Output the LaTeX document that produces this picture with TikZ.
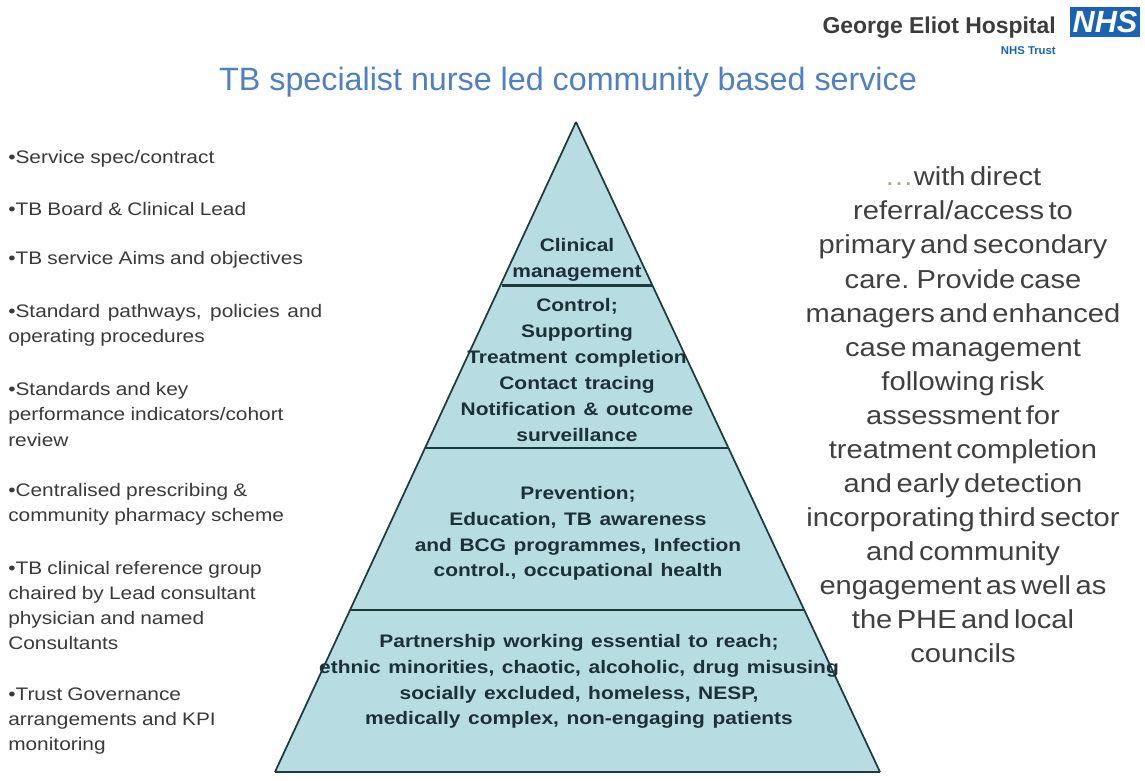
\documentclass[tikz,border=0pt]{standalone}
\usepackage{fontspec}
\setmainfont{Liberation Sans}
\newfontfamily\leftfam[FakeStretch=1.15,WordSpace=0.9]{Liberation Sans}
\newfontfamily\rightfam[FakeStretch=1.12,WordSpace=0.55]{Liberation Sans}
\newfontfamily\pyrfam[FakeStretch=1.155,WordSpace=1.3]{Liberation Sans}
\definecolor{pyrfill}{HTML}{B7DDE3}
\definecolor{pyrline}{HTML}{1E3B3C}
\definecolor{titleblue}{HTML}{4F7FC4}
\definecolor{nhsblue}{HTML}{1A63B4}
\definecolor{leftgrey}{HTML}{3A3A3A}
\definecolor{pyrtext}{HTML}{1C3038}
\definecolor{logogrey}{HTML}{3C3C3C}
\definecolor{dotgreen}{HTML}{9BB26A}
\tikzset{
  lefttext/.style={anchor=west,align=left,inner sep=0pt,text=leftgrey,font=\leftfam\fontsize{13.6}{18.9}\selectfont},
  righttext/.style={anchor=center,align=center,inner sep=0pt,text=black!75,font=\rightfam\fontsize{19.5}{25.55}\selectfont},
  pyrlabel/.style={anchor=center,align=center,inner sep=0pt,text=pyrtext,font=\pyrfam\bfseries\fontsize{13.6}{19.4}\selectfont},
  tier/.style={fill=pyrfill,draw=none},
  tierline/.style={draw=pyrline,line width=2pt},
  edgeline/.style={draw=pyrline,line width=1.3pt,line join=round}
}
\newcommand{\just}[2]{\makebox[#1][s]{#2}}
\begin{document}
\begin{tikzpicture}[x=0.75pt,y=-0.75pt]
\useasboundingbox (0,0) rectangle (1145,781);
\fill[white] (0,0) rectangle (1145,781);
% pyramid
\coordinate (apex) at (576,122);
\coordinate (bl) at (275,772);
\coordinate (br) at (880,772);
\fill[tier] (apex) -- (br) -- (bl) -- cycle;
\coordinate (l1) at (502,285.5); \coordinate (r1) at (652,285.5);
\coordinate (l2) at (426,448); \coordinate (r2) at (728,448);
\coordinate (l3) at (351,610); \coordinate (r3) at (804,610);
\draw[tierline] (l1) -- (r1);
\draw[tierline] (l2) -- (r2);
\draw[tierline] (l3) -- (r3);
\draw[edgeline] (apex) -- (br);
\draw[edgeline] (apex) -- (bl);
\draw[tierline] (bl) -- (br);
% pyramid labels
\node[pyrlabel] (t1) at (577,260) {Clinical\\management};
\node[pyrlabel] (t2) at (577,370) {Control;\\Supporting\\Treatment completion\\Contact tracing\\Notification \& outcome\\surveillance};
\node[pyrlabel] (t3) at (578,533.5) {Prevention;\\Education, TB awareness\\and BCG programmes, Infection\\control., occupational health};
\node[pyrlabel] (t4) at (579,681.5) {Partnership working essential to reach;\\ethnic minorities, chaotic, alcoholic, drug misusing\\socially excluded, homeless, NESP,\\medically complex, non-engaging patients};
% title and logo
\node[anchor=center,inner sep=0pt,text=titleblue,font=\fontsize{24.2}{28}\selectfont] (title) at (568,82.5) {TB specialist nurse led community based service};
\node[anchor=east,inner sep=0pt,text=logogrey,font=\bfseries\fontsize{17.2}{20}\selectfont] (hosp) at (1056,28) {George Eliot Hospital};
\node[anchor=east,inner sep=0pt,text=nhsblue,font=\bfseries\fontsize{8.5}{10}\selectfont] (trust) at (1056,51) {NHS Trust};
\node[anchor=center,minimum width=52.5pt,minimum height=22.5pt,inner sep=0pt,fill=nhsblue,text=white,font=\bfseries\itshape\fontsize{23}{24}\selectfont] (nhs) at (1105,22) {NHS};
% left list
\node[lefttext] (a1) at (8,158.5) {•Service spec/contract};
\node[lefttext] (a2) at (8,209.5) {•TB Board \& Clinical Lead};
\node[lefttext] (a3) at (8,260) {•TB service Aims and objectives};
\node[lefttext] (a4) at (8,325) {\just{235.5pt}{•Standard pathways, policies and}\\operating procedures};
\node[lefttext] (a5) at (8,414.5) {•Standards and key\\performance indicators/cohort\\review};
\node[lefttext] (a6) at (8,504) {•Centralised prescribing \&\\community pharmacy scheme};
\node[lefttext] (a7) at (8,605.5) {•TB clinical reference group\\chaired by Lead consultant\\physician and named\\Consultants};
\node[lefttext] (a8) at (8,721) {•Trust Governance\\arrangements and KPI\\monitoring};
% right text
\node[righttext] (b1) at (963,415) {{\color{dotgreen}…}with direct\\referral/access to\\primary and secondary\\care. Provide case\\managers and enhanced\\case management\\following risk\\assessment for\\treatment completion\\and early detection\\incorporating third sector\\and community\\engagement as well as\\the PHE and local\\councils};
\end{tikzpicture}
\end{document}
